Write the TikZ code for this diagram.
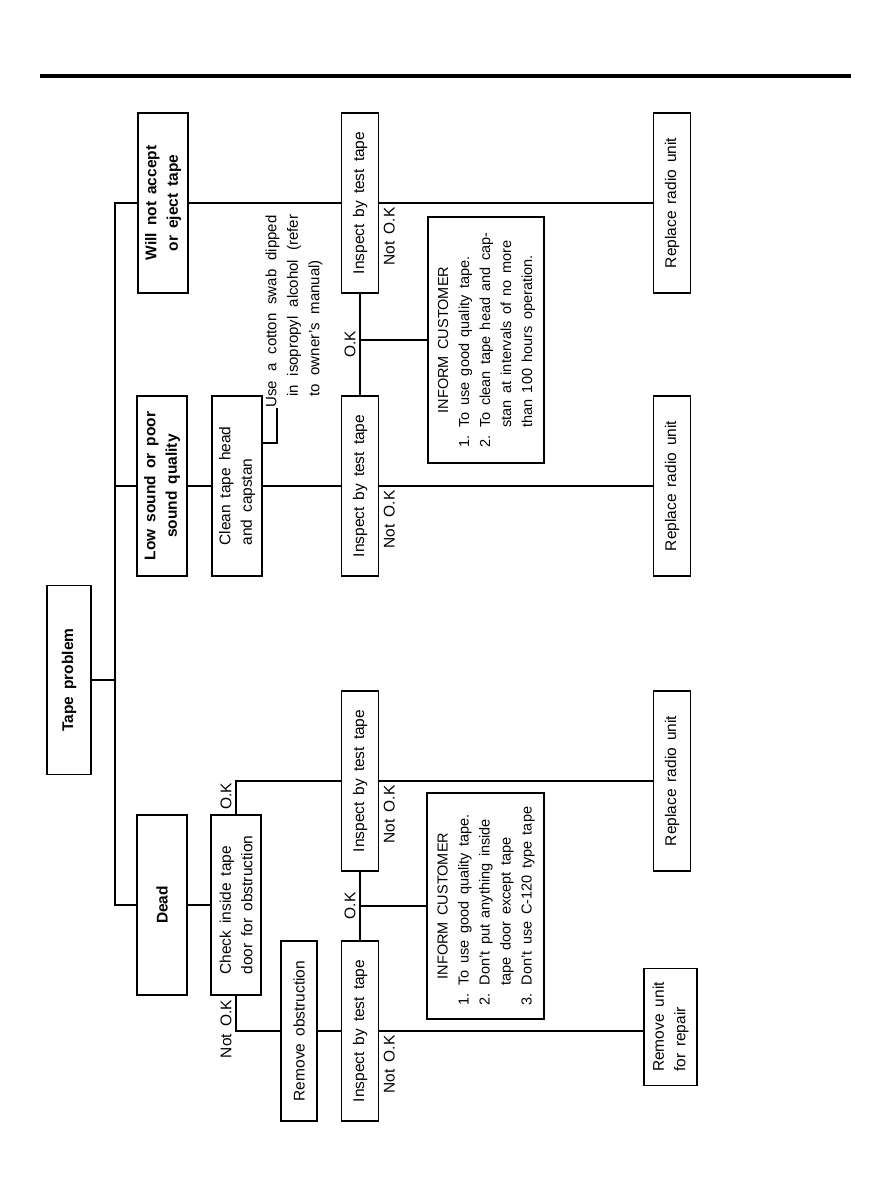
\documentclass[tikz,border=0pt]{standalone}
\usepackage{fontspec}
\setmainfont{Liberation Sans}
\usepackage{tikz}

\newcommand\flowfont{\fontsize{15.5}{21.5}\selectfont\spaceskip=0.45em plus 0.1em\relax}
\newcommand\custfont{\fontsize{14.5}{21}\selectfont\spaceskip=0.45em plus 0.1em\relax}
\newcommand\swabfont{\fontsize{15}{21.5}\selectfont\spaceskip=0.6em plus 0.2em\relax}

\begin{document}
\begin{tikzpicture}[x=1pt, y=-1pt, line width=1.2pt,
    box/.style={draw, rotate=90, minimum width=180pt, minimum height=37pt, inner sep=2pt, align=center, font=\flowfont},
    bbox/.style={box, font=\flowfont\bfseries},
    wide/.style={minimum height=50pt},
    lbl/.style={rotate=90, inner sep=4pt, font=\flowfont},
    cust/.style={draw, rotate=90, inner sep=0pt, font=\custfont},
    swab/.style={rotate=90, align=left, inner sep=0pt, font=\swabfont}]
\useasboundingbox (0,0) rectangle (878,1200);
\fill (40,73.7) rectangle (851,78.4);

\node[bbox, minimum width=189pt, minimum height=44pt] (tp) at (69,680) {Tape problem};
\node[bbox, wide] (wna) at (163,203) {Will not accept\\or eject tape};
\node[box] (ins1) at (360,203) {Inspect by test tape};
\node[box] (rep1) at (672,203) {Replace radio unit};
\node[bbox, wide] (low) at (162,486) {Low sound or poor\\sound quality};
\node[box, wide, align=left] (cln) at (237,486) {Clean tape head\\and capstan};
\node[box] (ins2) at (360,486) {Inspect by test tape};
\node[box] (rep2) at (672,486) {Replace radio unit};
\node[cust, minimum width=246pt, minimum height=116pt] (inf1) at (486,340) {\begin{tabular}{@{}l@{}}\multicolumn{1}{@{}c@{}}{INFORM CUSTOMER}\\1. To use good quality tape.\\2. To clean tape head and cap-\\\phantom{2. }stan at intervals of no more\\\phantom{2. }than 100 hours operation.\end{tabular}};
\node[swab, anchor=north west] (note) at (265,408) {Use a cotton swab dipped\\\hspace*{0.7em}in isopropyl alcohol (refer\\\hspace*{0.7em}to owner's manual)};
\node[bbox, wide] (dead) at (162,905) {Dead};
\node[box, wide, align=left] (chk) at (236,905) {Check inside tape\\door for obstruction};
\node[box] (ins3) at (360,781) {Inspect by test tape};
\node[box] (rep3) at (672,781) {Replace radio unit};
\node[cust, minimum width=226pt, minimum height=117pt] (inf2) at (485.5,906) {\begin{tabular}{@{}l@{}}\multicolumn{1}{@{}c@{}}{INFORM CUSTOMER}\\1. To use good quality tape.\\2. Don't put anything inside\\\phantom{2. }tape door except tape\\3. Don't use C-120 type tape\end{tabular}};
\node[box, minimum height=36pt] (rmo) at (299,1031) {Remove obstruction};
\node[box] (ins4) at (360,1031) {Inspect by test tape};
\node[box, minimum width=117pt, minimum height=53pt, align=left] (rmu) at (670.5,1027) {Remove unit\\for repair};

\coordinate (trunk) at (115,680);
\draw (tp) -- (trunk);
\draw (wna) -| (trunk) |- (dead);
\draw (low) -| (trunk);
\draw (wna) -- (ins1);
\draw (ins1) -- node[lbl, pos=0, anchor=north east]{Not O.K} (rep1);
\draw (ins2) -- node[lbl, anchor=south]{O.K} (ins1);
\draw (ins1 |- inf1) -- (inf1);
\draw (low) -- (cln) -- (ins2);
\draw (ins2) -- node[lbl, pos=0, anchor=north east]{Not O.K} (rep2);
\draw ([yshift=43pt]cln.south) -| ([xshift=12pt]note.north west);
\draw (dead) -- (chk);
\draw (chk.east) |- node[lbl, pos=0, anchor=south west]{O.K} (ins3);
\draw (chk.west) |- node[lbl, pos=0, anchor=south east]{Not O.K} (rmo);
\draw (ins3) -- node[lbl, pos=0, anchor=north east]{Not O.K} (rep3);
\draw (ins4) -- node[lbl, anchor=south]{O.K} (ins3);
\draw (ins3 |- inf2) -- (inf2);
\draw (rmo) -- (ins4);
\draw (ins4) -- node[lbl, pos=0, anchor=north east]{Not O.K} (ins4 -| rmu.north);
\end{tikzpicture}
\end{document}
